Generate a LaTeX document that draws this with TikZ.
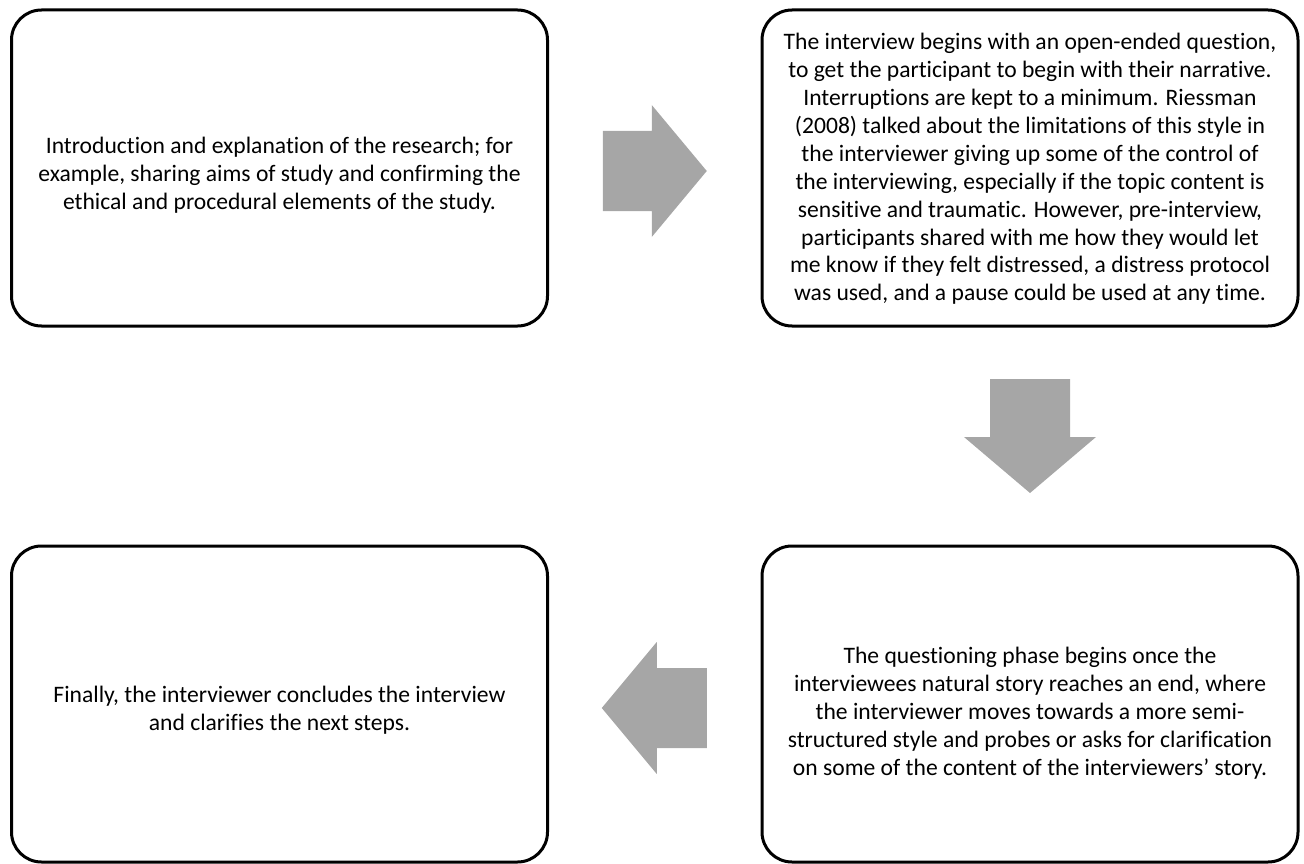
\documentclass[tikz,border=0pt]{standalone}
\usepackage{fontspec}
\setmainfont{Carlito}[Ligatures={NoCommon}]
\usetikzlibrary{calc}
\definecolor{arrowgray}{HTML}{A6A6A6}
\tikzset{
  stepbox/.style={draw=black, line width=3pt, rounded corners=30pt, rectangle,
    minimum width=536pt, minimum height=316pt, inner sep=0pt},
  boxtext/.style={inner sep=0pt, align=center, font=\fontsize{23.6}{27.9}\selectfont},
  blockarrow/.style={fill=arrowgray, draw=none}
}
\begin{document}
\begin{tikzpicture}[x=1pt, y=-1pt]
\useasboundingbox (0,0) rectangle (1304,864);
\node[stepbox] (A) at (279.5,168) {};
\node[stepbox] (B) at (1030,168) {};
\node[stepbox] (C) at (279.5,704) {};
\node[stepbox] (D) at (1030,704) {};
\node[boxtext] (At) at ($(A.center)+(0,7)$) {Introduction and explanation of the research; for\\example, sharing aims of study and confirming the\\ethical and procedural elements of the study.};
\node[boxtext] (Bt) at ($(B.center)+(0,1)$) {The interview begins with an open-ended question,\\to get the participant to begin with their narrative.\\Interruptions are kept to a minimum. Riessman\\(2008) talked about the limitations of this style in\\the interviewer giving up some of the control of\\the interviewing, especially if the topic content is\\sensitive and traumatic. However, pre-interview,\\participants shared with me how they would let\\me know if they felt distressed, a distress protocol\\was used, and a pause could be used at any time.};
\node[boxtext] (Dt) at ($(D.center)+(0,9)$) {The questioning phase begins once the\\interviewees natural story reaches an end, where\\the interviewer moves towards a more semi-\\structured style and probes or asks for clarification\\on some of the content of the interviewers’ story.};
\node[boxtext] (Ct) at ($(C.center)+(0,6)$) {Finally, the interviewer concludes the interview\\and clarifies the next steps.};
\coordinate (m1) at ($(A.east)!0.5!(B.west)+(0,3)$);
\coordinate (m2) at ($(B.south)!0.5!(D.north)$);
\coordinate (m3) at ($(C.east)!0.5!(D.west)+(0,4)$);
\fill[blockarrow, shift={(m1)}] (-52,-40) -- (-3,-40) -- (-3,-66) -- (52,0) -- (-3,66) -- (-3,40) -- (-52,40) -- cycle;
\fill[blockarrow, shift={(m2)}] (-40,-57) -- (40,-57) -- (40,1) -- (66,1) -- (0,57) -- (-66,1) -- (-40,1) -- cycle;
\fill[blockarrow, shift={(m3)}] (52,-40) -- (2,-40) -- (2,-66) -- (-53,0) -- (2,66) -- (2,40) -- (52,40) -- cycle;
\end{tikzpicture}
\end{document}
